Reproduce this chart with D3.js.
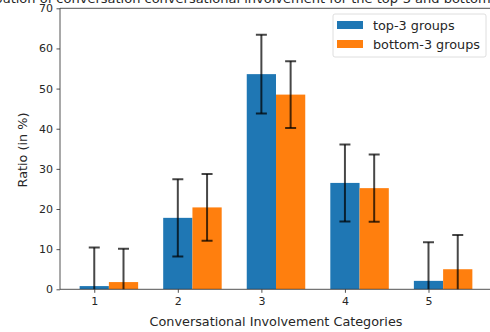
<!DOCTYPE html>
<html>
<head>
<meta charset="utf-8">
<script src="https://cdn.jsdelivr.net/npm/d3@7"></script>
<style>
  body { margin: 0; background: #fff; }
  svg { font-family: 'DejaVu Sans', sans-serif; }
</style>
</head>
<body>
<div id="chart"></div>
<script>
// Data
const categories = ['1', '2', '3', '4', '5'];
const top3 = [0.8, 17.8, 53.6, 26.5, 2.1];
const top3Err = [9.6, 9.6, 9.8, 9.6, 9.6];
const bottom3 = [1.8, 20.4, 48.5, 25.2, 5.0];
const bottom3Err = [8.3, 8.3, 8.3, 8.4, 8.5];
const yTicks = [0, 10, 20, 30, 40, 50, 60, 70];

const W = 490, H = 332;
const m = { left: 60, top: 8.3, bottom: 289.3, right: 492 };
const BLUE = '#1f77b4', ORANGE = '#ff7f0e';

const svg = d3.select('#chart').append('svg')
  .attr('width', W).attr('height', H);

// x in numeric units: category i+1, bars of width 0.35
const barW = 0.35;
const x = d3.scaleLinear().domain([0.59, 5.76]).range([m.left, m.right]);
const y = d3.scaleLinear().domain([0, 70]).range([m.bottom, m.top]);

svg.append('defs').append('clipPath').attr('id', 'plot-clip')
  .append('rect')
  .attr('x', m.left).attr('y', m.top)
  .attr('width', m.right - m.left).attr('height', m.bottom - m.top);

// Title (mostly cut off at the top of the picture)
svg.append('text')
  .attr('x', (m.left + m.right) / 2 - 20).attr('y', 2.5)
  .attr('text-anchor', 'middle')
  .attr('font-size', '13px')
  .attr('fill', '#262626')
  .text('Distribution of conversation conversational involvement for the top-3 and bottom-3 groups');

const series = [
  { name: 'top-3 groups', vals: top3, err: top3Err, color: BLUE, off: 0 },
  { name: 'bottom-3 groups', vals: bottom3, err: bottom3Err, color: ORANGE, off: barW }
];

const plot = svg.append('g').attr('clip-path', 'url(#plot-clip)');

series.forEach(s => {
  plot.selectAll(null)
    .data(s.vals).enter()
    .append('rect')
    .attr('x', (d, i) => x(i + 1 + s.off - barW / 2))
    .attr('width', x(barW) - x(0))
    .attr('y', d => y(d))
    .attr('height', d => y(0) - y(d))
    .attr('fill', s.color);
});

// Error bars
series.forEach(s => {
  const g = plot.selectAll(null)
    .data(s.vals.map((v, i) => ({ v, e: s.err[i], i }))).enter()
    .append('g')
    .attr('stroke', '#000')
    .attr('stroke-opacity', 0.72)
    .attr('stroke-width', 2);
  g.append('line')
    .attr('x1', d => x(d.i + 1 + s.off)).attr('x2', d => x(d.i + 1 + s.off))
    .attr('y1', d => y(d.v - d.e)).attr('y2', d => y(d.v + d.e));
  [1, -1].forEach(sign => {
    g.append('line')
      .attr('x1', d => x(d.i + 1 + s.off) - 5.5).attr('x2', d => x(d.i + 1 + s.off) + 5.5)
      .attr('y1', d => y(d.v + sign * d.e)).attr('y2', d => y(d.v + sign * d.e));
  });
});

// Axes
const xAxis = d3.axisBottom(x)
  .tickValues(categories.map(Number))
  .tickFormat((d, i) => categories[i])
  .tickSize(3.5).tickPadding(4.5);
const gx = svg.append('g').attr('transform', `translate(0,${m.bottom})`).call(xAxis);

const yAxis = d3.axisLeft(y).tickValues(yTicks).tickSize(3.5).tickPadding(3.5);
const gy = svg.append('g').attr('transform', `translate(${m.left},0)`).call(yAxis);

[gx, gy].forEach(g => {
  g.selectAll('.domain').remove();
  g.selectAll('.tick line').attr('stroke', '#262626').attr('stroke-width', 0.8);
  g.selectAll('.tick text').attr('font-size', '11px').attr('fill', '#262626')
    .attr('font-family', "'DejaVu Sans', sans-serif");
});

// Spines
const sp = svg.append('g').attr('stroke', '#262626').attr('stroke-width', 0.8).attr('fill', 'none');
sp.append('line').attr('x1', m.left).attr('x2', m.left).attr('y1', m.top).attr('y2', m.bottom);
sp.append('line').attr('x1', m.left).attr('x2', m.right).attr('y1', m.bottom).attr('y2', m.bottom);
sp.append('line').attr('x1', m.left).attr('x2', m.right).attr('y1', m.top).attr('y2', m.top);
sp.append('line').attr('x1', m.right).attr('x2', m.right).attr('y1', m.top).attr('y2', m.bottom);

// Axis labels
svg.append('text')
  .attr('x', (m.left + m.right) / 2).attr('y', 326)
  .attr('text-anchor', 'middle').attr('font-size', '12.8px').attr('fill', '#262626')
  .text('Conversational Involvement Categories');

svg.append('text')
  .attr('transform', `translate(27,150) rotate(-90)`)
  .attr('text-anchor', 'middle').attr('font-size', '12.8px').attr('fill', '#262626')
  .text('Ratio (in %)');

// Legend
const lg = svg.append('g');
lg.append('rect')
  .attr('x', 333).attr('y', 14).attr('width', 153).attr('height', 43)
  .attr('rx', 2).attr('fill', '#fff').attr('fill-opacity', 0.8)
  .attr('stroke', '#d6d6d6').attr('stroke-width', 0.8);
series.forEach((s, i) => {
  const yy = 21 + i * 19;
  lg.append('rect').attr('x', 337).attr('y', yy).attr('width', 26).attr('height', 8).attr('fill', s.color);
  lg.append('text').attr('x', 373).attr('y', yy + 9)
    .attr('font-size', '12.8px').attr('fill', '#262626').text(s.name);
});
</script>
</body>
</html>
